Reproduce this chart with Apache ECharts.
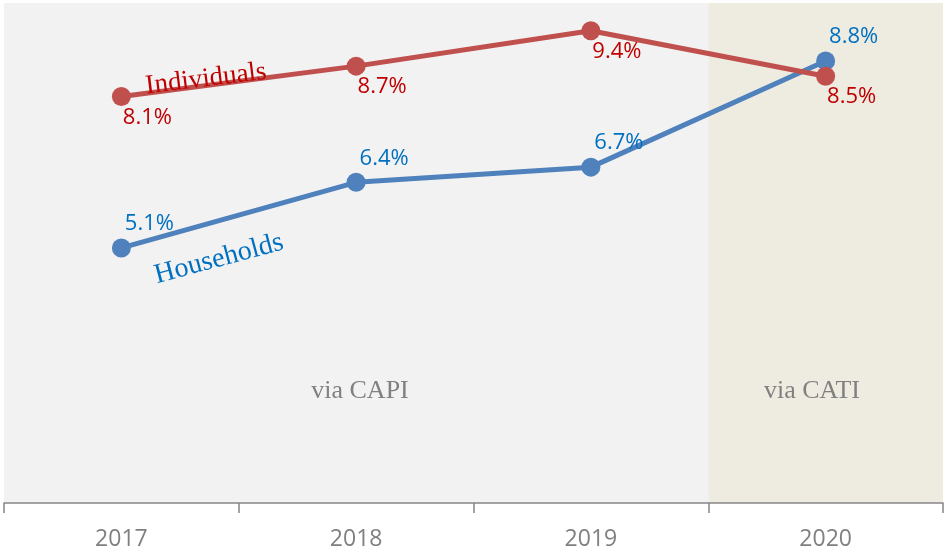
<!DOCTYPE html>
<html>
<head>
<meta charset="utf-8">
<style>
  html, body { margin: 0; padding: 0; background: #ffffff; }
  #chart { width: 944px; height: 551px; }
</style>
<script src="https://cdn.jsdelivr.net/npm/echarts@6/dist/echarts.min.js"></script>
</head>
<body>
<div id="chart"></div>
<script>
// 年份类目与两条序列（单位：%）
const YEARS = ["2017", "2018", "2019", "2020"];
const INDIVIDUALS = [8.1, 8.7, 9.4, 8.5];
const HOUSEHOLDS = [5.1, 6.4, 6.7, 8.8];

// 颜色
const RED_LINE = "#c0504d";
const RED_TEXT = "#c00000";
const BLUE_LINE = "#4f81bd";
const BLUE_TEXT = "#0070c0";
const GRAY_TEXT = "#808080";
const BG_CAPI = "#f2f2f2";
const BG_CATI = "#eeebe1";

const LABEL_FONT = "'Open Sans', 'Noto Sans', sans-serif";
const SERIF_FONT = "'Liberation Serif', 'DejaVu Serif', serif";

const chart = echarts.init(document.getElementById("chart"));

const lineSeries = (name, data, lineColor, textColor, offset) => ({
  name: name,
  type: "line",
  data: data,
  symbol: "circle",
  symbolSize: 19,
  lineStyle: { color: lineColor, width: 5 },
  itemStyle: { color: lineColor },
  label: {
    show: true,
    position: "inside",
    offset: offset,
    color: textColor,
    fontFamily: LABEL_FONT,
    fontSize: 22,
    formatter: (p) => p.value.toFixed(1) + "%",
  },
  animation: false,
});

// 序列名称与调查方式注释（非数据标记）
const noteText = (text, x, y, deg, color, size) => ({
  type: "text",
  x: x,
  y: y,
  z: 100,
  rotation: (deg * Math.PI) / 180,
  style: {
    text: text,
    fill: color,
    fontFamily: SERIF_FONT,
    fontSize: size,
    align: "center",
    verticalAlign: "middle",
  },
});

chart.setOption({
  animation: false,
  grid: { left: 4, right: 1, top: 3, bottom: 48 },
  xAxis: {
    type: "category",
    data: YEARS,
    boundaryGap: true,
    axisLine: { show: true, lineStyle: { color: "#868686", width: 1.5 } },
    axisTick: { show: true, length: 10, lineStyle: { color: "#868686", width: 1.5 } },
    axisLabel: {
      color: GRAY_TEXT,
      fontFamily: LABEL_FONT,
      fontSize: 23,
      margin: 25,
    },
    splitLine: { show: false },
    splitArea: {
      show: true,
      areaStyle: { color: [BG_CAPI, BG_CAPI, BG_CAPI, BG_CATI] },
    },
  },
  yAxis: {
    type: "value",
    min: 0.05,
    max: 9.95,
    show: false,
    splitLine: { show: false },
  },
  series: [
    lineSeries("Households", HOUSEHOLDS, BLUE_LINE, BLUE_TEXT, [28, -24]),
    lineSeries("Individuals", INDIVIDUALS, RED_LINE, RED_TEXT, [26, 21]),
  ],
  graphic: [
    noteText("Individuals", 206, 79, 7, RED_TEXT, 27),
    noteText("Households", 219, 259, 15, BLUE_TEXT, 28),
    noteText("via CAPI", 360, 391, 0, GRAY_TEXT, 26),
    noteText("via CATI", 812, 391, 0, GRAY_TEXT, 26),
  ],
});
</script>
</body>
</html>
